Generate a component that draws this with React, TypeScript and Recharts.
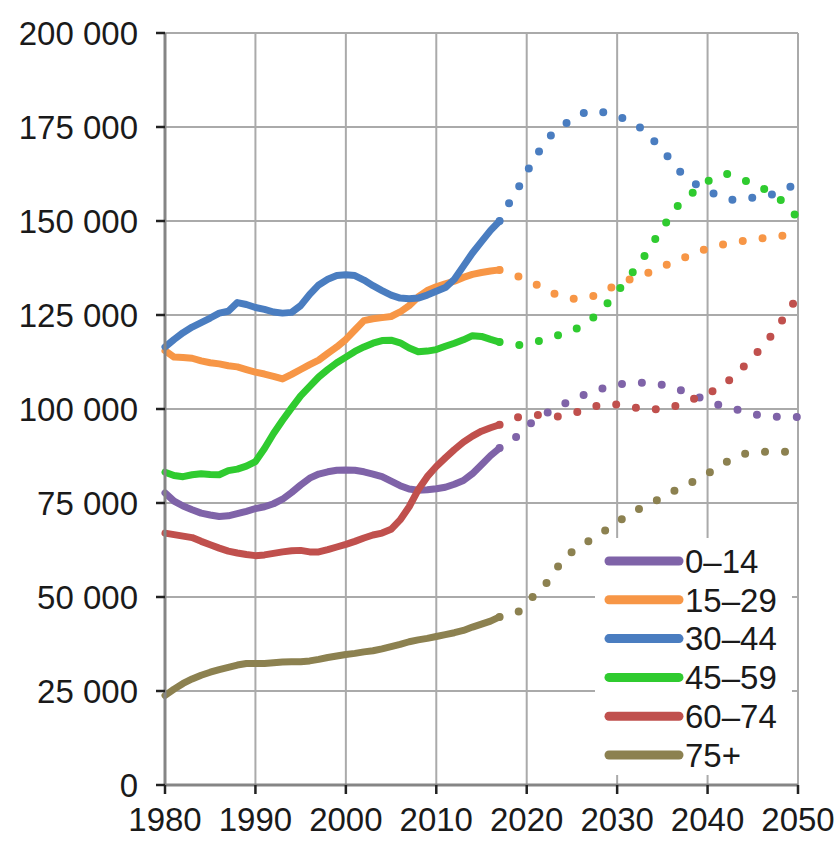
import React from 'react';
import { LineChart, Line, XAxis, YAxis, CartesianGrid, Legend } from 'recharts';

// years of the recorded part (solid) and of the projection (dotted)
const histYears = [
  1980, 1981, 1982, 1983, 1984, 1985, 1986, 1987, 1988, 1989,
  1990, 1991, 1992, 1993, 1994, 1995, 1996, 1997, 1998, 1999,
  2000, 2001, 2002, 2003, 2004, 2005, 2006, 2007, 2008, 2009,
  2010, 2011, 2012, 2013, 2014, 2015, 2016, 2017,
];
const projYears = [
  2017, 2018, 2019, 2020, 2021, 2022, 2023, 2024, 2025, 2026,
  2027, 2028, 2029, 2030, 2031, 2032, 2033, 2034, 2035, 2036,
  2037, 2038, 2039, 2040, 2041, 2042, 2043, 2044, 2045, 2046,
  2047, 2048, 2049, 2050,
];

const xTicks = [1980, 1990, 2000, 2010, 2020, 2030, 2040, 2050];
const yTicks = [0, 25000, 50000, 75000, 100000, 125000, 150000, 175000, 200000];

const age0to14Hist = [
  77700, 75500, 74200, 73200, 72300, 71800, 71400, 71600, 72200, 72800,
  73500, 74000, 74800, 76000, 77800, 79800, 81600, 82700, 83300, 83700,
  83800, 83700, 83300, 82700, 82000, 80800, 79600, 78700, 78400, 78500,
  78800, 79200, 80000, 81000, 82800, 85200, 87600, 89600,
];
const age0to14Proj = [
  89600, 91200, 92900, 95200, 97200, 98600, 100000, 101200, 102400, 103400,
  104400, 105200, 105900, 106400, 106800, 107000, 107000, 106800, 106400, 105900,
  105000, 104200, 103200, 102200, 101300, 100600, 100000, 99300, 98700, 98300,
  98000, 97900, 97900, 97900,
];

const age15to29Hist = [
  115500, 113800, 113700, 113500, 112800, 112300, 112000, 111500, 111200, 110500,
  109800, 109300, 108700, 108000, 109200, 110500, 111800, 113000, 114800, 116500,
  118500, 121000, 123500, 124000, 124300, 124600, 125800, 127500, 129800, 131500,
  132500, 133300, 134000, 135000, 135800, 136300, 136700, 137000,
];
const age15to29Proj = [
  137000, 136200, 135300, 134300, 133200, 132000, 130700, 129800, 129300, 129300,
  129800, 130600, 131800, 133300, 134200, 134800, 135800, 136800, 137800, 138900,
  139900, 140800, 141800, 142700, 143400, 143900, 144300, 144700, 145000, 145400,
  145700, 146000, 146300, 146600,
];

const age30to44Hist = [
  116500, 118500, 120300, 121800, 123000, 124200, 125500, 126000, 128300, 127800,
  127000, 126500, 125800, 125500, 125700, 127500, 130500, 133000, 134500, 135500,
  135700, 135500, 134300, 132800, 131500, 130300, 129500, 129300, 129500, 130300,
  131300, 132300, 134500, 138000, 141500, 144500, 147500, 150000,
];
const age30to44Proj = [
  150000, 154500, 158500, 163000, 167000, 171000, 173500, 175500, 176800, 178300,
  179300, 179200, 178500, 177800, 177000, 175700, 174000, 171500, 168800, 166000,
  163000, 161000, 159300, 158000, 157000, 156000, 155600, 155800, 156200, 156500,
  157000, 157800, 159000, 159500,
];

const age45to59Hist = [
  83200, 82300, 82000, 82500, 82800, 82600, 82500, 83600, 84000, 84800,
  86000, 89500, 93500, 97000, 100300, 103500, 106000, 108500, 110500, 112300,
  113800, 115300, 116500, 117500, 118200, 118300, 117600, 116200, 115200, 115400,
  115800, 116700, 117500, 118400, 119500, 119300, 118500, 117800,
];
const age45to59Proj = [
  117800, 117300, 117000, 117300, 117800, 118600, 119300, 120000, 120900, 122000,
  123600, 125800, 128300, 131100, 134300, 137200, 140600, 144400, 148000, 151800,
  154800, 156800, 158700, 160500, 161800, 162500, 161900, 160900, 159900, 158800,
  157600, 155800, 153300, 150800,
];

const age60to74Hist = [
  67000, 66600, 66200, 65800, 64800, 63900, 63000, 62200, 61700, 61300,
  61000, 61200, 61600, 62000, 62300, 62400, 62000, 62000, 62600, 63300,
  64000, 64800, 65700, 66500, 67000, 68000, 70500, 74000, 78500, 82000,
  84700, 87000, 89200, 91200, 92800, 94100, 95000, 95800,
];
const age60to74Proj = [
  95800, 97000, 97800, 98100, 98400, 98300, 98000, 98200, 98800, 99500,
  100300, 101000, 101300, 101200, 100900, 100400, 100000, 99900, 100000, 100500,
  101300, 102300, 103200, 104200, 105300, 107000, 108800, 111300, 113800, 116400,
  119400, 122600, 126600, 129500,
];

const age75plusHist = [
  23800, 25500, 27000, 28200, 29200, 30000, 30700, 31300, 31900, 32300,
  32300, 32300, 32500, 32700, 32800, 32800, 33000, 33400, 33900, 34300,
  34700, 35000, 35400, 35700, 36200, 36800, 37400, 38100, 38600, 39000,
  39500, 40000, 40500, 41100, 42000, 42800, 43600, 44700,
];
const age75plusProj = [
  44700, 45500, 46000, 48000, 51000, 53200, 56300, 60000, 62000, 63600,
  65100, 66700, 68200, 69800, 71500, 72900, 74000, 75200, 76600, 77900,
  79000, 80200, 81500, 82800, 84300, 85800, 87200, 88000, 88400, 88600,
  88600, 88600, 88700, 88800,
];

const series = [
  { name: '0–14', color: '#7f63a8', hist: age0to14Hist, proj: age0to14Proj },
  { name: '15–29', color: '#f79646', hist: age15to29Hist, proj: age15to29Proj },
  { name: '30–44', color: '#4a7dc0', hist: age30to44Hist, proj: age30to44Proj },
  { name: '45–59', color: '#2fcb2f', hist: age45to59Hist, proj: age45to59Proj },
  { name: '60–74', color: '#c0504d', hist: age60to74Hist, proj: age60to74Proj },
  { name: '75+', color: '#8c8150', hist: age75plusHist, proj: age75plusProj },
];

// one row per year, with h0..h5 (recorded) and p0..p5 (projection)
const rowsByYear: Record<number, any> = {};
histYears.forEach((y, i) => {
  rowsByYear[y] = rowsByYear[y] || { year: y };
  series.forEach((s, k) => { rowsByYear[y]['h' + k] = s.hist[i]; });
});
projYears.forEach((y, i) => {
  rowsByYear[y] = rowsByYear[y] || { year: y };
  series.forEach((s, k) => { rowsByYear[y]['p' + k] = s.proj[i]; });
});
const data = Object.values(rowsByYear).sort((a, b) => a.year - b.year);

const FONT = '"Liberation Sans", Arial, sans-serif';
const TEXT = '#1a1a1a';

const fmtY = (v: number) => (v === 0 ? '0' : `${v / 1000} 000`);

const LegendBox = () => (
  <svg width={197} height={237} style={{ display: 'block', background: '#fff' }}>
    {series.map((s, i) => {
      const cy = 23 + i * 38.8;
      return (
        <g key={s.name}>
          <line x1={14} x2={84} y1={cy} y2={cy} stroke={s.color} strokeWidth={9} strokeLinecap="round" />
          <text x={90} y={cy} dy="0.36em" fontSize={33} fontFamily={FONT} fill={TEXT}>
            {s.name}
          </text>
        </g>
      );
    })}
  </svg>
);

export default function App() {
  return (
    <div style={{ position: 'absolute', left: 0, top: 0, background: '#fff' }}>
      <LineChart
        width={840}
        height={841}
        data={data}
        margin={{ top: 33, right: 42, left: 0, bottom: 0 }}
      >
        <CartesianGrid stroke="#aaaaaa" strokeWidth={2} />
        <XAxis
          dataKey="year"
          type="number"
          domain={[1980, 2050]}
          ticks={xTicks}
          height={56}
          tickSize={9}
          tickMargin={14}
          axisLine={{ stroke: '#858585', strokeWidth: 3 }}
          tickLine={{ stroke: '#222', strokeWidth: 2.5 }}
          tick={{ fill: TEXT, fontSize: 33, fontFamily: FONT }}
          interval={0}
        />
        <YAxis
          domain={[0, 200000]}
          ticks={yTicks}
          width={165}
          tickSize={9}
          tickMargin={18}
          tickFormatter={fmtY}
          axisLine={{ stroke: '#858585', strokeWidth: 3 }}
          tickLine={{ stroke: '#222', strokeWidth: 2.5 }}
          tick={{ fill: TEXT, fontSize: 33, fontFamily: FONT }}
          interval={0}
        />
        <Legend
          layout="vertical"
          align="center"
          verticalAlign="middle"
          content={() => <LegendBox />}
          wrapperStyle={{ left: 595, top: 538, width: 197, height: 237 }}
        />
        {series.map((s, k) => (
          <Line
            key={'h' + k}
            dataKey={'h' + k}
            name={s.name}
            stroke={s.color}
            strokeWidth={7}
            strokeLinejoin="round"
            strokeLinecap="round"
            dot={false}
            activeDot={false}
            type="linear"
            connectNulls
            isAnimationActive={false}
            legendType="none"
          />
        ))}
        {series.map((s, k) => (
          <Line
            key={'p' + k}
            dataKey={'p' + k}
            name={s.name + ' proj'}
            stroke={s.color}
            strokeWidth={8}
            strokeDasharray="0 20"
            strokeLinecap="round"
            dot={false}
            activeDot={false}
            type="monotone"
            connectNulls
            isAnimationActive={false}
            legendType="none"
          />
        ))}
      </LineChart>
    </div>
  );
}
